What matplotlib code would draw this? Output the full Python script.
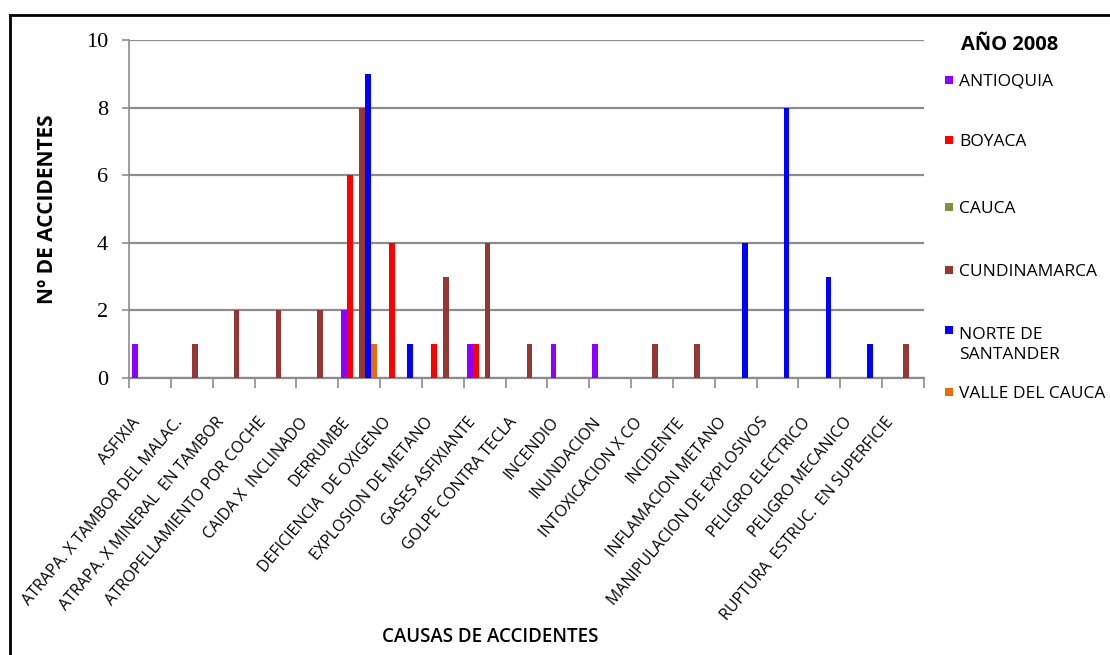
import numpy as np
import matplotlib
matplotlib.use("Agg")
import matplotlib.pyplot as plt
from matplotlib.lines import Line2D
from matplotlib.patches import Rectangle
from matplotlib.transforms import ScaledTranslation

causas = [
    "ASFIXIA", "ATRAPA. X TAMBOR DEL MALAC.", "ATRAPA. X MINERAL  EN TAMBOR",
    "ATROPELLAMIENTO POR COCHE", "CAIDA X  INCLINADO", "DERRUMBE",
    "DEFICIENCIA  DE OXIGENO", "EXPLOSION DE METANO", "GASES ASFIXIANTE",
    "GOLPE CONTRA TECLA", "INCENDIO", "INUNDACION", "INTOXICACION X CO",
    "INCIDENTE", "INFLAMACION METANO", "MANIPULACION DE EXPLOSIVOS",
    "PELIGRO ELECTRICO", "PELIGRO MECANICO", "RUPTURA  ESTRUC.  EN SUPERFICIE",
]

departamentos = ["ANTIOQUIA", "BOYACA", "CAUCA", "CUNDINAMARCA",
                 "NORTE DE\nSANTANDER", "VALLE DEL CAUCA"]
colores = ["#8B00FF", "#FF0000", "#77933C", "#953735", "#0000FF", "#E46C0A"]

antioquia    = [1, 0, 0, 0, 0, 2, 0, 0, 1, 0, 1, 1, 0, 0, 0, 0, 0, 0, 0]
boyaca       = [0, 0, 0, 0, 0, 6, 4, 1, 1, 0, 0, 0, 0, 0, 0, 0, 0, 0, 0]
cauca        = [0, 0, 0, 0, 0, 0, 0, 0, 0, 0, 0, 0, 0, 0, 0, 0, 0, 0, 0]
cundinamarca = [0, 1, 2, 2, 2, 8, 0, 3, 4, 1, 0, 0, 1, 1, 0, 0, 0, 0, 1]
norte        = [0, 0, 0, 0, 0, 9, 1, 0, 0, 0, 0, 0, 0, 0, 4, 8, 3, 1, 0]
valle        = [0, 0, 0, 0, 0, 1, 0, 0, 0, 0, 0, 0, 0, 0, 0, 0, 0, 0, 0]
series = [antioquia, boyaca, cauca, cundinamarca, norte, valle]

y_ticks = [0, 2, 4, 6, 8, 10]

GRIS = "#8c8c8c"
SANS = ["Open Sans", "DejaVu Sans"]

fig = plt.figure(figsize=(11.1, 6.55), dpi=100)
ax = fig.add_axes([129 / 1110, 1 - 378 / 655, 795 / 1110, 338 / 655])

x = np.arange(len(causas))
ancho = 1 / 7
for i, (vals, color) in enumerate(zip(series, colores)):
    ax.bar(x + (i - 2.5) * ancho, vals, width=ancho * 0.95, color=color,
           linewidth=0, zorder=3)

ax.set_xlim(-0.5, len(causas) - 0.5)
ax.set_ylim(0, 10)
ax.set_yticks(y_ticks)
ax.yaxis.grid(True, color=GRIS, linewidth=1.6, zorder=0)
for s in ["top", "right"]:
    ax.spines[s].set_visible(False)
ax.spines["left"].set_color(GRIS)
ax.spines["bottom"].set_color(GRIS)
ax.spines["left"].set_linewidth(1.2)
ax.spines["bottom"].set_linewidth(1.6)

ax.tick_params(axis="y", length=5, color=GRIS, width=1.2, pad=10)
for t in ax.get_yticklabels():
    t.set_fontfamily("Liberation Serif")
    t.set_fontsize(16)

# category separators as minor ticks, names on the (hidden) major ticks
ax.set_xticks(np.arange(len(causas) + 1) - 0.5, minor=True)
ax.tick_params(axis="x", which="minor", length=7, color=GRIS, width=1.2)
ax.set_xticks(x)
ax.set_xticklabels(causas, rotation=50, ha="right", va="center",
                   rotation_mode="anchor", fontfamily=SANS, fontsize=11.5,
                   color="black")
ax.tick_params(axis="x", which="major", length=0, pad=30)
desplaza = ScaledTranslation(-0.12, 0, fig.dpi_scale_trans)
for t in ax.get_xticklabels():
    t.set_transform(t.get_transform() + desplaza)

fig.text(48 / 1110, 1 - 209 / 655, "Nº DE ACCIDENTES", rotation=90,
         ha="center", va="center", fontfamily=SANS, fontsize=15,
         fontweight="bold")
fig.text(490 / 1110, 1 - 637 / 655, "CAUSAS DE ACCIDENTES", ha="center",
         va="center", fontfamily=SANS, fontsize=13.5, fontweight="semibold")

# legend drawn by hand on the right
fig.text(961 / 1110, 1 - 45 / 655, "AÑO 2008", ha="left", va="center",
         fontfamily=SANS, fontsize=14.5, fontweight="bold")
filas_y = [80, 140, 207, 270, 330, 392]
salto = 23
for nombre, color, fy in zip(departamentos, colores, filas_y):
    fig.patches.append(Rectangle((945 / 1110, 1 - (fy + 4) / 655),
                                 8 / 1110, 8 / 655, transform=fig.transFigure,
                                 facecolor=color, edgecolor="none"))
    extra = nombre.count("\n") * salto
    fig.text(959 / 1110, 1 - (fy + 6 + extra) / 655, nombre, ha="left",
             va="baseline", fontfamily=SANS, fontsize=12.5, linespacing=1.35)

# outer frame (top and left edges)
fig.add_artist(Line2D([10 / 1110, 1], [1 - 15 / 655, 1 - 15 / 655],
                      color="black", linewidth=2, transform=fig.transFigure))
fig.add_artist(Line2D([10 / 1110, 10 / 1110], [0, 1 - 15 / 655],
                      color="black", linewidth=2, transform=fig.transFigure))

fig.savefig("out.png", dpi=100)
